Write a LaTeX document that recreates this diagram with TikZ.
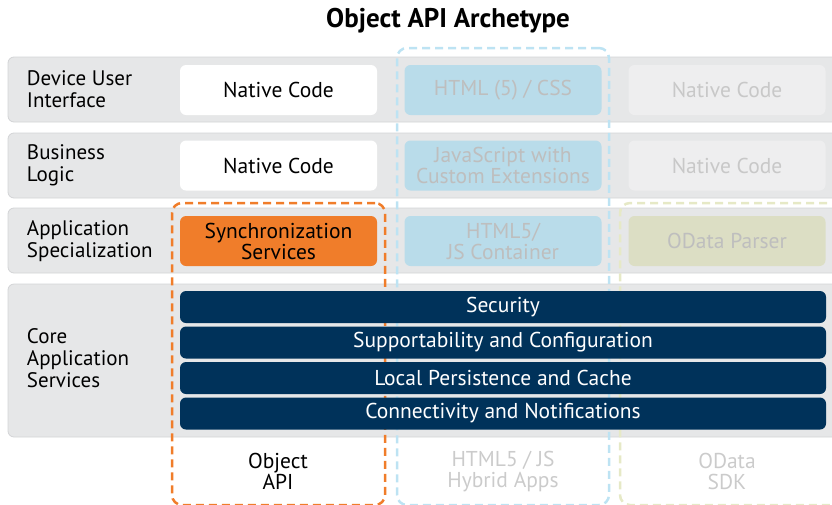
\documentclass[tikz,border=0pt]{standalone}
\usepackage{fontspec}
\setmainfont{PT Sans}
\definecolor{bandgray}{HTML}{E6E7E8}
\definecolor{bandedge}{HTML}{D3D4D6}
\definecolor{sapnavy}{HTML}{00325A}
\definecolor{saporange}{HTML}{F07D2A}
\definecolor{hybridblue}{HTML}{B9DCEA}
\definecolor{hybriddash}{HTML}{BDE3F3}
\definecolor{odatabox}{HTML}{DCDEC4}
\definecolor{odatadash}{HTML}{E6E9C6}
\definecolor{fadedtext}{HTML}{BEBEBE}
\definecolor{ghostbox}{HTML}{EEEEEF}

\tikzset{
  layer/.style={fill=bandgray, draw=bandedge, line width=0.8pt, rounded corners=6pt,
    anchor=north west, minimum width=840pt},
  rowlabel/.style={anchor=west, align=left, font=\fontsize{21}{22}\selectfont},
  box/.style={rounded corners=6pt, minimum width=197pt, minimum height=50pt,
    align=center, font=\fontsize{21.5}{21}\selectfont},
  nativebox/.style={box, fill=white},
  hybridbox/.style={box, fill=hybridblue, text=fadedtext},
  ghostnative/.style={box, fill=ghostbox, text=fadedtext!85},
  corebar/.style={rounded corners=6pt, fill=sapnavy, text=white, minimum width=646pt,
    minimum height=32pt, font=\fontsize{21.5}{21}\selectfont},
  archframe/.style={line width=2.5pt, dash pattern=on 8pt off 5pt, rounded corners=10pt,
    anchor=north west},
  collabel/.style={align=center, font=\fontsize{21.5}{21}\selectfont},
}

\begin{document}
\begin{tikzpicture}[x=1pt,y=-1pt, inner sep=0pt, outer sep=0pt]
  \useasboundingbox (0,0) rectangle (832,504);
  \clip (0,0) rectangle (832,504);

  % title
  \node[font=\fontsize{27}{28}\selectfont\bfseries] (title) at (448,21) {Object API Archetype};

  % layer bands
  \node[layer, minimum height=65pt] (uiband) at (8,57) {};
  \node[layer, minimum height=65pt] (logicband) at (8,133) {};
  \node[layer, minimum height=65pt] (specband) at (8,208) {};
  \node[layer, minimum height=153pt] (coreband) at (8,284) {};

  \node[rowlabel] (uilabel) at (27,89.5) {Device User\\Interface};
  \node[rowlabel] (logiclabel) at (27,165.5) {Business\\Logic};
  \node[rowlabel] (speclabel) at (27,241) {Application\\Specialization};
  \node[rowlabel] (corelabel) at (27,358.5) {Core\\Application\\Services};

  % archetype frames
  \node[archframe, draw=saporange, minimum width=213pt, minimum height=302pt] (objframe) at (172,203) {};
  \node[archframe, draw=hybriddash, minimum width=212pt, minimum height=457pt] (hybridframe) at (397,48) {};
  \node[archframe, draw=odatadash, minimum width=230pt, minimum height=302pt] (odataframe) at (620,203) {};

  % column 1: object api
  \node[nativebox] (objui) at (278.5,90) {Native Code};
  \node[nativebox] (objlogic) at (278.5,165.5) {Native Code};
  \node[box, fill=saporange] (objsync) at (278.5,241) {Synchronization\\Services};

  % column 2: hybrid
  \node[hybridbox] (hybui) at (503,90) {HTML (5) / CSS};
  \node[hybridbox] (hyblogic) at (503,165.5) {JavaScript with\\Custom Extensions};
  \node[hybridbox] (hybcont) at (503,241) {HTML5/\\JS Container};

  % column 3: odata
  \node[ghostnative] (odui) at (727,90) {Native Code};
  \node[ghostnative] (odlogic) at (727,165.5) {Native Code};
  \node[box, fill=odatabox, text=fadedtext] (odparser) at (727,241) {OData Parser};

  % core services
  \foreach \y/\t [count=\i] in {307/Security, 342.5/Supportability and Configuration,
      378/Local Persistence and Cache, 413.5/Connectivity and Notifications}
    \node[corebar] (core\i) at (503,\y) {\t};

  % column labels
  \node[collabel] (objlabel) at (278,471.5) {Object\\API};
  \node[collabel, text=fadedtext!80] (hyblabel) at (503,471.5) {HTML5 / JS\\Hybrid Apps};
  \node[collabel, text=fadedtext!80] (odlabel) at (727,471.5) {OData\\SDK};
\end{tikzpicture}
\end{document}
